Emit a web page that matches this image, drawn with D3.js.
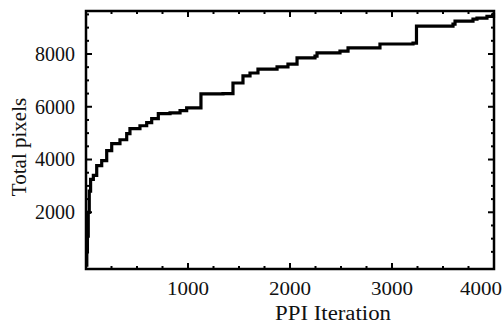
<!DOCTYPE html>
<html>
<head>
<meta charset="utf-8">
<script src="https://cdn.jsdelivr.net/npm/d3@7"></script>
<style>
  html, body { margin: 0; padding: 0; background: #fff; }
  svg { display: block; }
  text { font-family: "Liberation Serif", "Times New Roman", serif; fill: #111; }
</style>
</head>
<body>
<svg id="chart" width="504" height="323"></svg>
<script>
// PPI iteration at which the running count changes
const iterations = [0, 8, 14, 22, 32, 45, 72, 105, 154, 203, 252, 333, 399, 431, 529, 595, 644, 709, 824, 922, 987, 1127,
  1343, 1441, 1539, 1608, 1686, 1873, 1980, 2069, 2245, 2265, 2490, 2569, 2882, 3206, 3240, 3598, 3618, 3794, 3833, 3931, 3995];
// Total pixels reached at each of those iterations
const totalPixels = [0, 500, 1100, 2000, 2800, 3250, 3400, 3770, 3960, 4340, 4600, 4750, 4980, 5170, 5280, 5400, 5550, 5740, 5770, 5850, 5960, 6490,
  6500, 6900, 7170, 7280, 7430, 7510, 7620, 7850, 7920, 8040, 8110, 8230, 8380, 8415, 9060, 9130, 9245, 9320, 9360, 9430, 9560];

const xMajorTicks = [1000, 2000, 3000, 4000];
const yMajorTicks = [2000, 4000, 6000, 8000];
const xLabel = "PPI Iteration";
const yLabel = "Total pixels";

const W = 504, H = 323;
const plot = { left: 86, top: 11, right: 494, bottom: 269 };

const svg = d3.select("#chart");

const x = d3.scaleLinear().domain([0, 4000]).range([plot.left, plot.right]);
const y = d3.scaleLinear().domain([-150, 9630]).range([plot.bottom, plot.top]);

const xMinor = d3.range(250, 4000, 250).filter(v => !xMajorTicks.includes(v));
const yMinor = d3.range(500, 9630, 500).filter(v => !yMajorTicks.includes(v));

const data = iterations.map((it, i) => ({ it, px: totalPixels[i] }));

// staircase of accumulated pixels
const line = d3.line()
  .x(d => x(d.it))
  .y(d => y(d.px))
  .curve(d3.curveStepAfter);

svg.append("path")
  .datum(data)
  .attr("d", line)
  .attr("fill", "none")
  .attr("stroke", "#000")
  .attr("stroke-width", 3.2)
  .attr("stroke-linejoin", "miter");

// inward ticks on all four sides
const tickGroup = svg.append("g").attr("stroke", "#000").attr("stroke-width", 2);
function xTicks(vals, len) {
  vals.forEach(v => {
    tickGroup.append("line").attr("x1", x(v)).attr("x2", x(v)).attr("y1", plot.bottom).attr("y2", plot.bottom - len);
    tickGroup.append("line").attr("x1", x(v)).attr("x2", x(v)).attr("y1", plot.top).attr("y2", plot.top + len);
  });
}
function yTicks(vals, len) {
  vals.forEach(v => {
    tickGroup.append("line").attr("y1", y(v)).attr("y2", y(v)).attr("x1", plot.left).attr("x2", plot.left + len);
    tickGroup.append("line").attr("y1", y(v)).attr("y2", y(v)).attr("x1", plot.right).attr("x2", plot.right - len);
  });
}
xTicks(xMajorTicks.filter(v => v < 4000), 6);
xTicks(xMinor, 3);
yTicks(yMajorTicks, 6);
yTicks(yMinor, 3);

// plot frame
svg.append("rect")
  .attr("x", plot.left).attr("y", plot.top)
  .attr("width", plot.right - plot.left).attr("height", plot.bottom - plot.top)
  .attr("fill", "none").attr("stroke", "#000").attr("stroke-width", 2.5);

// tick labels
svg.append("g").selectAll("text").data(yMajorTicks).join("text")
  .attr("x", plot.left - 11).attr("y", d => y(d)).attr("dy", "0.34em")
  .attr("text-anchor", "end").attr("font-size", 20)
  .text(d => d);

svg.append("g").selectAll("text").data(xMajorTicks).join("text")
  .attr("x", d => Math.min(x(d), W - 23)).attr("y", 295)
  .attr("text-anchor", "middle").attr("font-size", 19)
  .attr("textLength", 42).attr("lengthAdjust", "spacingAndGlyphs")
  .text(d => d);

// axis titles
svg.append("text")
  .attr("x", 333).attr("y", 320)
  .attr("text-anchor", "middle").attr("font-size", 20)
  .attr("textLength", 116).attr("lengthAdjust", "spacingAndGlyphs")
  .text(xLabel);

svg.append("text")
  .attr("transform", `translate(26,${(plot.top + plot.bottom) / 2 + 7}) rotate(-90)`)
  .attr("text-anchor", "middle").attr("font-size", 21)
  .text(yLabel);
</script>
</body>
</html>
